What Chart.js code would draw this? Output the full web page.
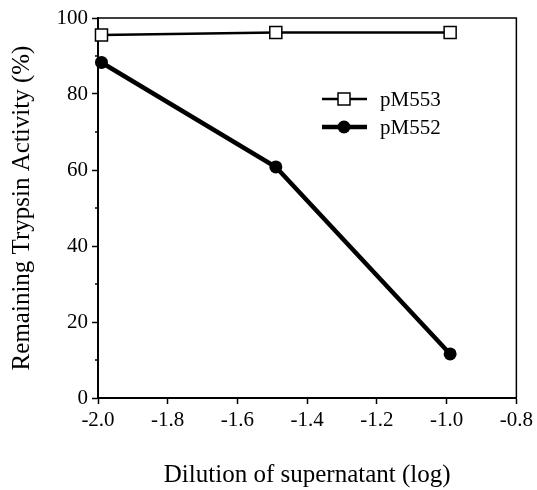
<!DOCTYPE html>
<html>
<head>
<meta charset="utf-8">
<script src="https://cdn.jsdelivr.net/npm/chart.js@4"></script>
<style>
  html, body { margin: 0; padding: 0; background: #fff; }
  #wrap { width: 537px; height: 490px; }
</style>
</head>
<body>
<div id="wrap"><canvas id="c" width="537" height="490"></canvas></div>
<script>
const dilution = [-1.99, -1.49, -0.99];
const pM553 = [95.5, 96.2, 96.2];
const pM552 = [88.3, 60.8, 11.6];
const seriesNames = ['pM553', 'pM552'];
const xTitle = 'Dilution of supernatant (log)';
const yTitle = 'Remaining Trypsin Activity (%)';
const yMinorTicks = [10, 30, 50, 70, 90];

const FONT = '"Liberation Serif", "Times New Roman", serif';

const toPts = (ys) => dilution.map((x, i) => ({ x: x, y: ys[i] }));

const framePlugin = {
  id: 'frame',
  afterDraw(chart) {
    const ctx = chart.ctx;
    const a = chart.chartArea;
    const ys = chart.scales.y;
    ctx.save();
    ctx.strokeStyle = '#000';
    ctx.lineWidth = 1.5;
    ctx.beginPath();
    ctx.moveTo(a.left, a.top);
    ctx.lineTo(a.right, a.top);
    ctx.lineTo(a.right, a.bottom);
    ctx.stroke();
    // minor ticks
    yMinorTicks.forEach(v => {
      const y = ys.getPixelForValue(v);
      ctx.beginPath();
      ctx.moveTo(a.left - 3, y);
      ctx.lineTo(a.left, y);
      ctx.stroke();
    });
    // legend
    const lx0 = 322, lx1 = 367, mx = 344, tx = 380;
    const rows = [99, 127];
    ctx.font = '21px ' + FONT;
    ctx.textBaseline = 'middle';
    // row 1: square
    ctx.lineWidth = 2.5;
    ctx.beginPath(); ctx.moveTo(lx0, rows[0]); ctx.lineTo(lx1, rows[0]); ctx.stroke();
    ctx.fillStyle = '#fff';
    ctx.fillRect(mx - 6, rows[0] - 6, 12, 12);
    ctx.lineWidth = 1.5;
    ctx.strokeRect(mx - 6, rows[0] - 6, 12, 12);
    // row 2: circle
    ctx.lineWidth = 4.5;
    ctx.beginPath(); ctx.moveTo(lx0, rows[1]); ctx.lineTo(lx1, rows[1]); ctx.stroke();
    ctx.fillStyle = '#000';
    ctx.beginPath(); ctx.arc(mx, rows[1], 6.5, 0, Math.PI * 2); ctx.fill();
    ctx.fillText(seriesNames[0], tx, rows[0] + 1);
    ctx.fillText(seriesNames[1], tx, rows[1] + 1);
    ctx.restore();
  }
};

new Chart(document.getElementById('c'), {
  type: 'scatter',
  data: {
    datasets: [
      {
        label: seriesNames[0],
        data: toPts(pM553),
        showLine: true,
        borderColor: '#000',
        borderWidth: 2.5,
        pointStyle: 'rect',
        pointRadius: 8.5,
        pointBackgroundColor: '#fff',
        pointBorderColor: '#000',
        pointBorderWidth: 1.5,
        clip: false,
        order: 1
      },
      {
        label: seriesNames[1],
        data: toPts(pM552),
        showLine: true,
        borderColor: '#000',
        borderWidth: 4.5,
        pointStyle: 'circle',
        pointRadius: 6.5,
        pointBackgroundColor: '#000',
        pointBorderColor: '#000',
        pointBorderWidth: 0,
        clip: false,
        order: 2
      }
    ]
  },
  options: {
    responsive: false,
    animation: false,
    devicePixelRatio: 1,
    layout: { padding: { top: 18, right: 20, left: 0, bottom: 0 } },
    plugins: { legend: { display: false }, tooltip: { enabled: false } },
    scales: {
      x: {
        type: 'linear',
        min: -2.0, max: -0.8,
        afterFit(s) { s.height = 92; },
        border: { display: true, color: '#000', width: 2 },
        grid: { drawOnChartArea: false, drawTicks: true, tickLength: 6, tickColor: '#000', tickWidth: 1.5 },
        ticks: {
          stepSize: 0.2,
          padding: 4,
          color: '#000',
          font: { family: FONT, size: 21 },
          maxRotation: 0,
          callback: (v) => Number(v).toFixed(1)
        },
        title: {
          display: true, text: xTitle, color: '#000',
          font: { family: FONT, size: 25 },
          padding: { top: 0, bottom: 0 }
        }
      },
      y: {
        type: 'linear',
        min: 0, max: 100,
        afterFit(s) { s.width = 98; },
        border: { display: true, color: '#000', width: 2 },
        grid: { drawOnChartArea: false, drawTicks: true, tickLength: 6, tickColor: '#000', tickWidth: 1.5 },
        ticks: {
          stepSize: 20,
          padding: 4,
          color: '#000',
          font: { family: FONT, size: 21 }
        },
        title: {
          display: true, text: yTitle, color: '#000',
          font: { family: FONT, size: 25 },
          padding: { top: 7, bottom: 0 }
        }
      }
    }
  },
  plugins: [framePlugin]
});
</script>
</body>
</html>
